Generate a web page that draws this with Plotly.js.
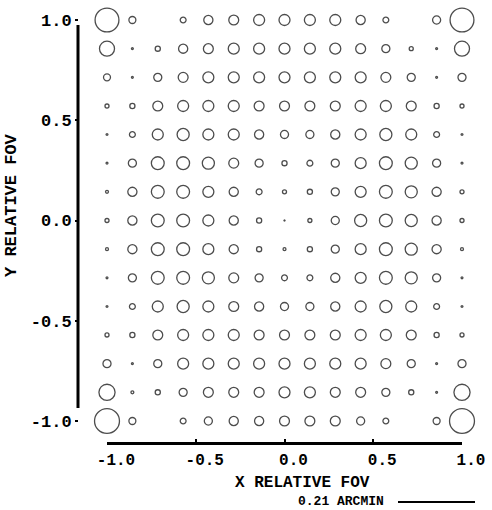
<!DOCTYPE html>
<html>
<head>
<meta charset="utf-8">
<script src="https://cdn.plot.ly/plotly-3.0.1.min.js"></script>
<style>
  html, body { margin: 0; padding: 0; background: #ffffff; }
  #chart { width: 492px; height: 510px; }
</style>
</head>
<body>
<div id="chart"></div>
<script>
// Field sample positions (relative field of view)
const xField = [-1.0, -0.857, -0.714, -0.571, -0.429, -0.286, -0.143, 0.0, 0.143, 0.286, 0.429, 0.571, 0.714, 0.857, 1.0];
const yField = [1.0, 0.857, 0.714, 0.571, 0.429, 0.286, 0.143, 0.0, -0.143, -0.286, -0.429, -0.571, -0.714, -0.857, -1.0];

// Spot diameter in arcmin, one row per Y field value (top to bottom); 0 = no spot drawn
const spotRow01 = [0.065, 0.019, 0, 0.016, 0.025, 0.027, 0.030, 0.030, 0.030, 0.030, 0.025, 0.016, 0, 0.022, 0.065];
const spotRow02 = [0.041, 0.005, 0.014, 0.025, 0.027, 0.030, 0.030, 0.030, 0.030, 0.030, 0.027, 0.022, 0.011, 0.005, 0.041];
const spotRow03 = [0.019, 0.005, 0.022, 0.027, 0.030, 0.030, 0.030, 0.030, 0.030, 0.030, 0.030, 0.027, 0.022, 0.005, 0.022];
const spotRow04 = [0.011, 0.014, 0.027, 0.030, 0.030, 0.030, 0.027, 0.027, 0.027, 0.027, 0.030, 0.030, 0.027, 0.014, 0.011];
const spotRow05 = [0.005, 0.016, 0.030, 0.033, 0.030, 0.030, 0.025, 0.022, 0.022, 0.025, 0.030, 0.033, 0.030, 0.016, 0.005];
const spotRow06 = [0.005, 0.022, 0.035, 0.035, 0.033, 0.027, 0.022, 0.014, 0.016, 0.022, 0.030, 0.035, 0.033, 0.022, 0.005];
const spotRow07 = [0.008, 0.025, 0.035, 0.035, 0.030, 0.025, 0.016, 0.011, 0.014, 0.022, 0.030, 0.035, 0.033, 0.025, 0.011];
const spotRow08 = [0.011, 0.025, 0.035, 0.035, 0.030, 0.025, 0.014, 0.003, 0.011, 0.022, 0.033, 0.035, 0.033, 0.025, 0.011];
const spotRow09 = [0.008, 0.025, 0.035, 0.035, 0.030, 0.025, 0.014, 0.008, 0.014, 0.022, 0.030, 0.035, 0.033, 0.025, 0.008];
const spotRow10 = [0.005, 0.022, 0.035, 0.035, 0.033, 0.027, 0.022, 0.016, 0.016, 0.025, 0.030, 0.035, 0.033, 0.022, 0.005];
const spotRow11 = [0.005, 0.016, 0.030, 0.033, 0.030, 0.027, 0.025, 0.022, 0.022, 0.025, 0.030, 0.033, 0.030, 0.016, 0.005];
const spotRow12 = [0.011, 0.014, 0.027, 0.030, 0.030, 0.030, 0.027, 0.027, 0.027, 0.027, 0.030, 0.030, 0.027, 0.014, 0.011];
const spotRow13 = [0.022, 0.005, 0.022, 0.030, 0.030, 0.030, 0.030, 0.030, 0.030, 0.030, 0.030, 0.027, 0.022, 0.005, 0.022];
const spotRow14 = [0.044, 0.008, 0.014, 0.022, 0.027, 0.027, 0.027, 0.030, 0.030, 0.027, 0.027, 0.022, 0.014, 0.005, 0.044];
const spotRow15 = [0.068, 0.019, 0, 0.016, 0.022, 0.025, 0.025, 0.027, 0.027, 0.027, 0.022, 0.016, 0, 0.019, 0.068];
const spotRows = [spotRow01, spotRow02, spotRow03, spotRow04, spotRow05, spotRow06, spotRow07, spotRow08,
                  spotRow09, spotRow10, spotRow11, spotRow12, spotRow13, spotRow14, spotRow15];

// Axis ticks
const tickVals = [-1.0, -0.5, 0.0, 0.5, 1.0];
const tickText = ['-1.0', '-0.5', '0.0', '0.5', '1.0'];

// Scale bar
const scaleArcmin = 0.21;
const scaleLabel = '0.21 ARCMIN';

// ---- styling / geometry ----
const W = 492, H = 510;
const mL = 78, mR = 30, mT = 20, mB = 67;
const plotW = W - mL - mR;   // 384
const plotH = H - mT - mB;   // 423
const scaleBarPx = 77;
const pxPerArcmin = scaleBarPx / scaleArcmin;

const px = [], py = [], ps = [];
spotRows.forEach((row, j) => {
  row.forEach((v, i) => {
    if (v > 0) {
      px.push(xField[i]);
      py.push(yField[j]);
      ps.push(v * pxPerArcmin);
    }
  });
});

const font = { family: '"Liberation Mono", "Courier New", monospace', size: 17, color: '#000', weight: 'bold' };
const tickFont = Object.assign({}, font, { size: 16 });

const trace = {
  type: 'scatter',
  mode: 'markers',
  x: px, y: py,
  cliponaxis: false,
  hoverinfo: 'skip',
  marker: {
    symbol: 'circle-open',
    size: ps,
    color: '#000',
    line: { width: 1.3, color: '#000' }
  }
};

const toPaperX = p => (p - mL) / plotW;
const toPaperY = p => (H - mB - p) / plotH;

const layout = {
  width: W, height: H,
  margin: { l: mL, r: mR, t: mT, b: mB, pad: 0 },
  paper_bgcolor: '#fff',
  plot_bgcolor: '#fff',
  showlegend: false,
  font: font,
  xaxis: {
    domain: [toPaperX(107), 1],
    range: [-1, 1],
    anchor: 'free', position: 0,
    showgrid: false, zeroline: false,
    showline: true, linewidth: 3, linecolor: '#000',
    ticks: 'inside', ticklen: 3, tickwidth: 2, tickcolor: '#000',
    tickvals: tickVals, ticktext: tickText,
    ticklabelshift: 9,
    ticklabelstandoff: 1,
    tickfont: tickFont
  },
  yaxis: {
    domain: [toPaperY(421), 1],
    range: [-1, 1],
    anchor: 'free', position: 0,
    showgrid: false, zeroline: false,
    showline: false,
    ticks: 'outside', ticklen: 3, tickwidth: 2, tickcolor: '#000',
    tickvals: tickVals, ticktext: tickText,
    tickfont: font
  },
  shapes: [
    { type: 'line', xref: 'paper', yref: 'y', x0: 0, x1: 0, y0: -0.935, y1: 0.975,
      line: { color: '#000', width: 3 } },
    { type: 'line', xref: 'paper', yref: 'paper',
      x0: toPaperX(398), x1: toPaperX(398 + scaleBarPx), y0: toPaperY(502), y1: toPaperY(502),
      line: { color: '#000', width: 2 } }
  ],
  annotations: [
    { text: 'X RELATIVE FOV', xref: 'paper', yref: 'paper', x: toPaperX(302), y: toPaperY(483),
      xanchor: 'center', yanchor: 'middle', showarrow: false, font: tickFont },
    { text: 'Y RELATIVE FOV', xref: 'paper', yref: 'paper', x: toPaperX(12), y: toPaperY(205),
      xanchor: 'center', yanchor: 'middle', textangle: -90, showarrow: false, font: font },
    { text: scaleLabel, xref: 'paper', yref: 'paper', x: toPaperX(386), y: toPaperY(501),
      xanchor: 'right', yanchor: 'middle', showarrow: false,
      font: Object.assign({}, font, { size: 13 }) }
  ]
};

Plotly.newPlot('chart', [trace], layout, { staticPlot: true, displayModeBar: false });
</script>
</body>
</html>
